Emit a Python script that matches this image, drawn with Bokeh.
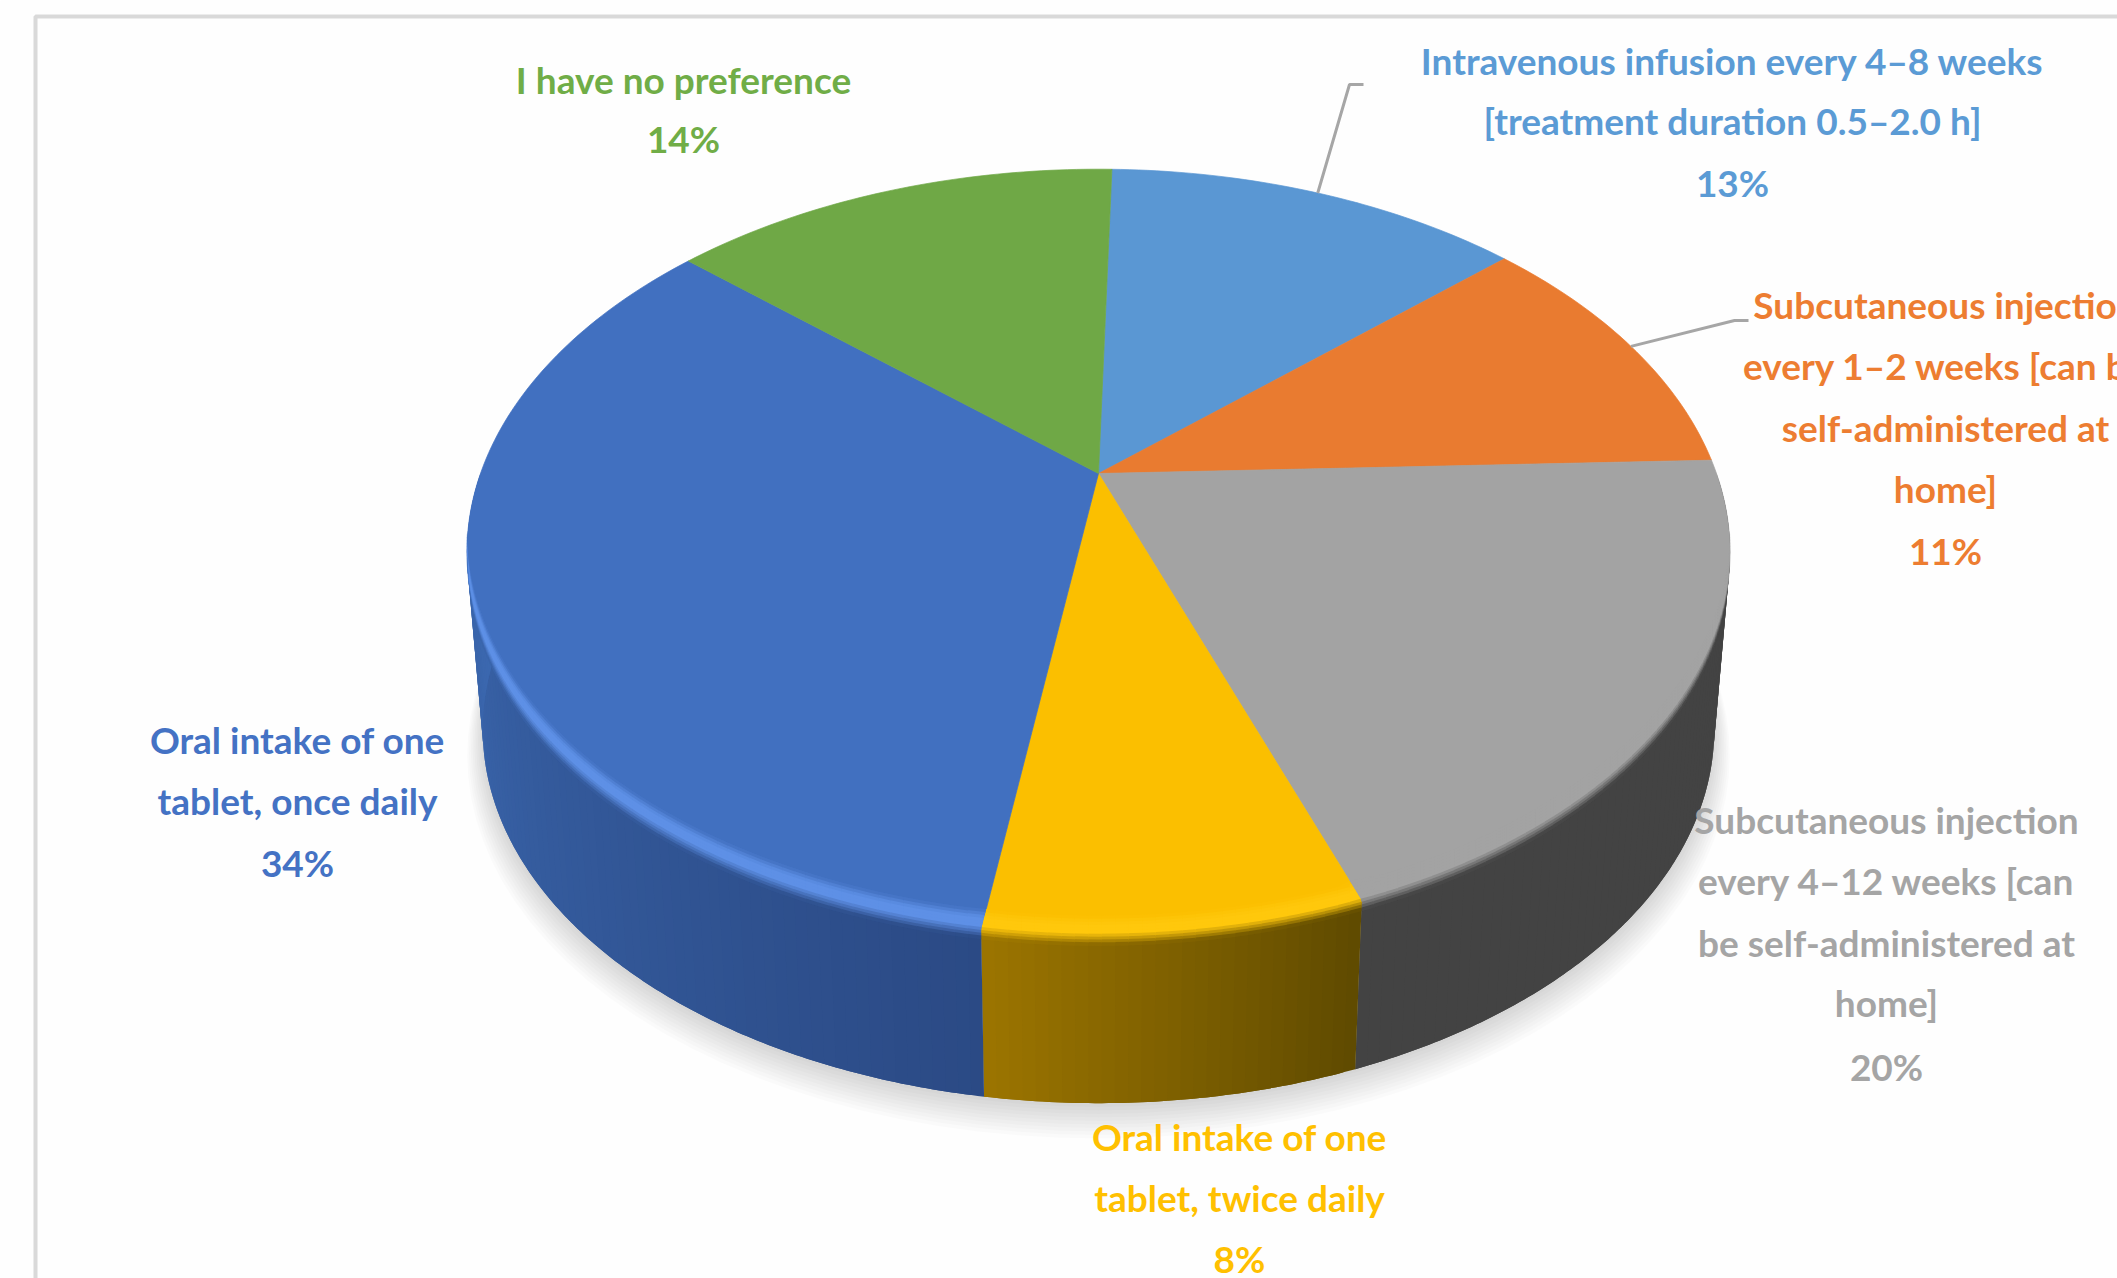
import math

from bokeh.core.properties import value
from bokeh.embed import file_html
from bokeh.models import Range1d
from bokeh.plotting import figure
from bokeh.resources import INLINE

# Survey answers, clockwise from twelve o'clock
CATEGORIES = [
    "Intravenous infusion every 4–8 weeks\n[treatment duration 0.5–2.0 h]",
    "Subcutaneous injection\nevery 1–2 weeks [can be\nself-administered at\nhome]",
    "Subcutaneous injection\nevery 4–12 weeks [can\nbe self-administered at\nhome]",
    "Oral intake of one\ntablet, twice daily",
    "Oral intake of one\ntablet, once daily",
    "I have no preference",
]
VALUES = [13, 11, 20, 8, 34, 14]

FACE_COLOURS = ["#5A97D3", "#E97B30", "#A3A3A3", "#FBBF00", "#4170C0", "#6FA846"]
LABEL_COLOURS = ["#5B9BD5", "#ED7D31", "#A5A5A5", "#FFC000", "#4472C4", "#70AD47"]
HILITE_COLOURS = ["#5A97D3", "#E97B30", "#A3A3A3", "#FFC80C", "#5E90E6", "#6FA846"]
WALL_NEAR = ["#3A6190", "#9C5320", "#434343", "#5F4A00", "#2B4A85", "#4A7030"]
WALL_FAR = ["#3A6190", "#9C5320", "#434343", "#9C7500", "#3C69B1", "#4A7030"]

# Label layout: centre x and the y of each text line
LABEL_X = [1732, 1945, 1886, 1239, 297, 683]
LABEL_Y = [
    [60, 120, 182],
    [304, 365, 427, 488, 550],
    [819, 880, 942, 1002, 1066],
    [1136, 1197, 1258],
    [739, 800, 862],
    [79, 138],
]
LABEL_FONT = "Lato"
LABEL_SIZE = "37px"

# Leader elbows for the two labels that sit away from their slices
LEADER_ELBOWS = {0: [(1349, 84), (1363, 84)], 1: [(1734, 320), (1748, 320)]}

# Perspective disc: apex position, radii, foreshortening
APEX_X, APEX_Y = 1098, 473
RADIUS_X, RADIUS_Y, TILT = 618, 367, 0.206
FIRST_SLICE_DEG = 1.5
WALL_DEPTH, WALL_SHRINK = 179, 0.025

# Rim bevel: offsets of the stacked bands, and where the blends start and end
BEVEL_ROWS = list(range(-20, 11, 3))
BEVEL_FACE_END, BEVEL_FLAT_END, BEVEL_WALL_START = -11, -3, 9


def project(theta_deg, dy=0.0, grow=0.0):
    """Screen position of a rim point, theta clockwise from the far side of the disc."""
    t = math.radians(theta_deg)
    u, v = math.sin(t), math.cos(t)
    w = 1 + TILT * v
    s = 1 - WALL_SHRINK * max(dy, 0) / WALL_DEPTH + grow
    return (APEX_X + s * RADIUS_X * u / w, APEX_Y + dy - s * RADIUS_Y * v / w)


def rgb(h):
    return [int(h[i:i + 2], 16) for i in (1, 3, 5)]


def mix(colours, weights):
    parts = [sum(w * rgb(c)[i] for c, w in zip(colours, weights)) for i in range(3)]
    return "#%02X%02X%02X" % tuple(round(x) for x in parts)


def degrees(a, b, step=1.0):
    n = max(1, int(math.ceil((b - a) / step)))
    return [a + (b - a) * i / n for i in range(n + 1)]


def bevel_blend(dy, face, hilite, wall):
    if dy < BEVEL_FACE_END:
        t = (dy - BEVEL_ROWS[0]) / (BEVEL_FACE_END - BEVEL_ROWS[0])
        return mix([face, hilite], [1 - t, t])
    if dy < BEVEL_FLAT_END:
        return hilite
    t = min(1.0, (dy - BEVEL_FLAT_END) / (BEVEL_WALL_START - BEVEL_FLAT_END))
    return mix([hilite, wall], [1 - t, t])


def bevel_point(theta, dy, on_spoke):
    x, y = project(theta, dy)
    if on_spoke and dy < 0:
        # Along a slice boundary the band follows the spoke towards the apex
        rx, ry = project(theta)
        x += (APEX_X - rx) * (-dy) / (ry - APEX_Y)
    return x, y


p = figure(width=2117, height=1278, output_backend="svg", toolbar_location=None,
           x_range=Range1d(0, 2117), y_range=Range1d(1278, 0),
           min_border=0, outline_line_color=None, background_fill_color="#FEFEFE",
           border_fill_color="#FEFEFE")
p.axis.visible = False
p.grid.visible = False

# Chart-area border, open towards the right and the bottom
p.line([35, 35, 2117], [1278, 16, 16], line_color="#D9D9D9", line_width=4)

# Cumulative slice boundaries in degrees
total = sum(VALUES)
bounds = [FIRST_SLICE_DEG]
for v in VALUES:
    bounds.append(bounds[-1] + 360.0 * v / total)

# Soft drop shadow beneath the disc
rim = degrees(0, 360, 3)
for i in range(10):
    f = i / 9
    pts = [project(a, WALL_DEPTH + 24 - 20 * f, 0.028 - 0.028 * f) for a in rim]
    p.patch([q[0] for q in pts], [q[1] for q in pts], fill_color="#000000",
            fill_alpha=0.014, line_color=None)

# Side wall: quads overlap the next step so no seam shows between shades
wx, wy, wc = [], [], []
for k in range(len(VALUES)):
    a0, b0 = max(bounds[k], 90), min(bounds[k + 1], 270)
    if b0 <= a0:
        continue
    angles = degrees(a0, b0)
    for i, (a, b) in enumerate(zip(angles[:-1], angles[1:])):
        far = angles[min(i + 2, len(angles) - 1)]
        arc = degrees(a, far, 0.5)
        q = [project(c) for c in arc] + [project(c, WALL_DEPTH) for c in reversed(arc)]
        wx.append([c[0] for c in q])
        wy.append([c[1] for c in q])
        t = ((a + b) / 2 - a0) / (b0 - a0)
        wc.append(mix([WALL_NEAR[k], WALL_FAR[k]], [1 - t, t]))
p.patches(wx, wy, fill_color=wc, line_color=None)

# Top face, one polygon per slice running back to the apex
fx, fy = [], []
for k in range(len(VALUES)):
    pts = [project(a) for a in degrees(bounds[k], bounds[k + 1])]
    fx.append([APEX_X] + [c[0] for c in pts])
    fy.append([APEX_Y] + [c[1] for c in pts])
p.patches(fx, fy, fill_color=FACE_COLOURS, line_color=FACE_COLOURS, line_width=0.7)

# Rounded rim on the near side: stacked bands from face colour to wall colour
bx, by, bc = [], [], []
for k in range(len(VALUES)):
    a0, b0 = max(bounds[k], 102), min(bounds[k + 1], 258)
    if b0 <= a0:
        continue
    angles = degrees(a0, b0)
    for i, (a, b) in enumerate(zip(angles[:-1], angles[1:])):
        far = angles[min(i + 2, len(angles) - 1)]
        t = ((a + b) / 2 - a0) / (b0 - a0)
        wall = mix([WALL_NEAR[k], WALL_FAR[k]], [1 - t, t])
        for r in range(len(BEVEL_ROWS) - 1):
            top, low = BEVEL_ROWS[r], BEVEL_ROWS[r + 1] + 1
            q = [bevel_point(a, top, a == bounds[k]), bevel_point(far, top, far == bounds[k + 1]),
                 bevel_point(far, low, far == bounds[k + 1]), bevel_point(a, low, a == bounds[k])]
            bx.append([c[0] for c in q])
            by.append([c[1] for c in q])
            bc.append(bevel_blend(top + 1.5, FACE_COLOURS[k], HILITE_COLOURS[k], wall))
p.patches(bx, by, fill_color=bc, line_color=None)

# Leader lines start on the rim at the middle of their slice
for k, elbows in LEADER_ELBOWS.items():
    start = project((bounds[k] + bounds[k + 1]) / 2)
    xs = [start[0]] + [e[0] for e in elbows]
    ys = [start[1]] + [e[1] for e in elbows]
    p.line(xs, ys, line_color="#A6A6A6", line_width=3)

# Labels: the category lines followed by the percentage
for k, name in enumerate(CATEGORIES):
    lines = name.split("\n") + [f"{VALUES[k]}%"]
    p.text(x=[LABEL_X[k]] * len(lines), y=LABEL_Y[k], text=lines,
           text_color=LABEL_COLOURS[k], text_align="center", text_baseline="middle",
           text_font=value(LABEL_FONT), text_font_size=LABEL_SIZE, text_font_style="bold")

open("out.html", "w").write(file_html(p, INLINE))
